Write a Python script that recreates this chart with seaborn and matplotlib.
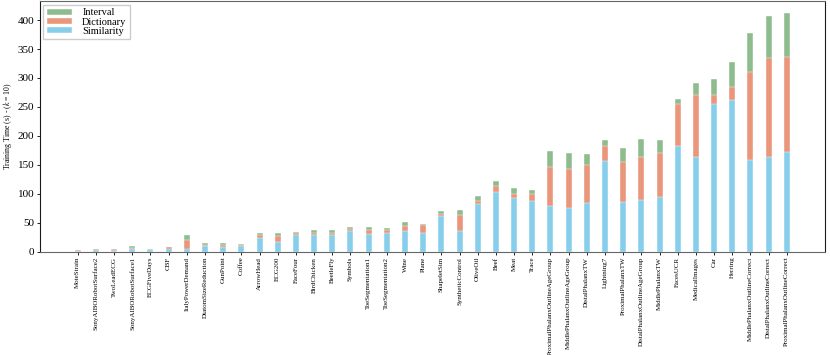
from matplotlib import pyplot as plt
import seaborn as sns
import numpy as np

datasets = ['MoteStrain', 'SonyAIBORobotSurface2', 'TwoLeadECG', 'SonyAIBORobotSurface1',
            'ECGFiveDays', 'CBF', 'ItalyPowerDemand', 'DiatomSizeReduction', 'GunPoint',
            'Coffee', 'ArrowHead', 'ECG200', 'FaceFour', 'BirdChicken', 'BeetleFly',
            'Symbols', 'ToeSegmentation1', 'ToeSegmentation2', 'Wine', 'Plane',
            'ShapeletSim', 'SyntheticControl', 'OliveOil', 'Beef', 'Meat', 'Trace',
            'ProximalPhalanxOutlineAgeGroup', 'MiddlePhalanxOutlineAgeGroup', 'DistalPhalanxTW',
            'Lightning7', 'ProximalPhalanxTW', 'DistalPhalanxOutlineAgeGroup', 'MiddlePhalanxTW',
            'FacesUCR', 'MedicalImages', 'Car', 'Herring', 'MiddlePhalanxOutlineCorrect',
            'DistalPhalanxOutlineCorrect', 'ProximalPhalanxOutlineCorrect']

similarity = [0.3, 3.0, 1.0, 5.2, 2.5, 4.0, 4.0, 10.4, 8.1, 9.5,
              23.7, 16.8, 27.7, 29.4, 28.9, 35.2, 30.6, 31.2, 35.2, 32.3,
              61.8, 35.2, 81.4, 102.2, 91.8, 86.6, 77.9, 75.6, 83.7, 155.8,
              84.8, 88.3, 93.5, 181.8, 163.3, 254.5, 262.7, 157.6, 163.3, 172.0]
dictionary = [1.7, 1.0, 2.0, 1.7, 0.8, 3.0, 16.3, 1.2, 3.5, 1.4,
              4.0, 10.4, 4.0, 1.8, 2.8, 2.9, 6.3, 5.2, 8.1, 12.7,
              3.5, 28.3, 5.2, 10.4, 8.1, 13.3, 67.6, 66.4, 65.8, 26.0,
              70.5, 74.5, 76.2, 73.9, 106.8, 15.6, 21.8, 152.9, 172.1, 163.9]
interval = [0.3, 1.2, 1.0, 1.8, 0.7, 1.1, 7.4, 2.3, 2.3, 2.4,
            4.0, 5.1, 2.9, 5.2, 5.2, 3.5, 4.7, 4.0, 7.5, 3.0,
            5.2, 8.7, 9.2, 9.8, 10.4, 6.9, 28.9, 27.7, 19.0, 10.4,
            24.3, 32.3, 23.7, 8.0, 21.3, 27.7, 44.0, 67.5, 71.5, 76.7]

plt.rcParams['font.family'] = ['Liberation Serif', 'DejaVu Serif']
plt.rcParams['mathtext.fontset'] = 'stix'

sim = np.array(similarity)
dic = sim + np.array(dictionary)
tot = dic + np.array(interval)

fig = plt.figure(figsize=(8.3, 3.55), dpi=100)
ax = fig.add_axes([0.0476, 0.2915, 0.9464, 0.7055])

# stacked by drawing cumulative heights back to front
sns.barplot(x=datasets, y=tot, color='darkseagreen', width=0.33, saturation=1,
            edgecolor='white', linewidth=0.3, label='Interval', ax=ax)
sns.barplot(x=datasets, y=dic, color='darksalmon', width=0.33, saturation=1,
            edgecolor='white', linewidth=0.3, label='Dictionary', ax=ax)
sns.barplot(x=datasets, y=sim, color='skyblue', width=0.33, saturation=1,
            edgecolor='white', linewidth=0.3, label='Similarity', ax=ax)

ax.set_xlim(-2.1, 41.1)
ax.set_ylim(0, 433)
ax.set_yticks(range(0, 401, 50))
ax.tick_params(axis='x', labelrotation=90, labelsize=5.0, length=2.2, width=0.6, pad=1.5)
ax.tick_params(axis='y', labelsize=8, length=2.2, width=0.6, pad=1.5)
ax.set_ylabel('Training Time (s) - ($k$ = 10)', fontsize=5.6, labelpad=3)

for side in ['left', 'right']:
    ax.spines[side].set_color('0.1')
    ax.spines[side].set_linewidth(0.8)
for side in ['top', 'bottom']:
    ax.spines[side].set_color('0.4')
    ax.spines[side].set_linewidth(0.8)

ax.legend(loc='upper left', fontsize=7.5, handlelength=2.4, handleheight=0.5,
          labelspacing=0.02, handletextpad=1.0, borderpad=0.35,
          borderaxespad=0.35, fancybox=False, edgecolor='0.8', framealpha=1)

fig.savefig('out.png', dpi=100)
